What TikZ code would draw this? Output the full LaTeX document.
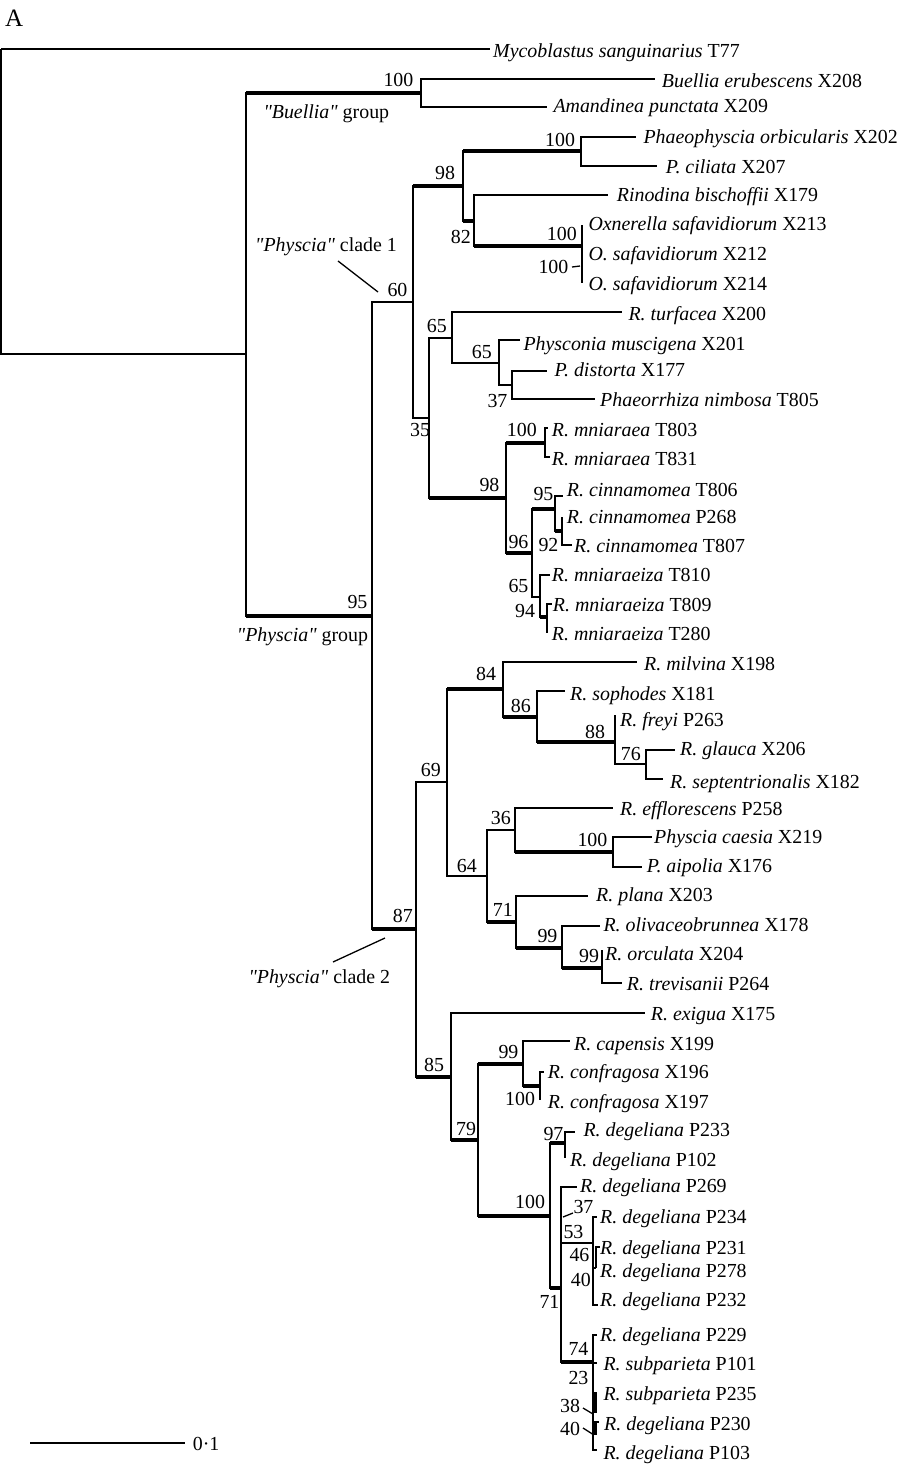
\documentclass[tikz,border=0pt]{standalone}
\usepackage{fontspec}
\setmainfont{Liberation Serif}[Ligatures=TeXOff]
\newcommand{\fs}{\fontsize{19.9}{23}\selectfont}
\tikzset{
  br/.style={line width=1.3pt, line join=miter},
  tkl/.style={line width=4.3pt},
  lf/.style={anchor=base west, inner sep=0pt, font=\fs},
  lead/.style={line width=1.3pt}
}
\newcommand{\tn}[2]{\draw[br] (#1) |- (#2);}
\newcommand{\thk}[2]{\draw[br] (#1) |- (#2); \draw[tkl] (#1 |- #2) -- (#2);}
\newcommand{\mkleaf}[4]{\node[lf] (#1) at (#2,#3) {#4};}
\begin{document}
\begin{tikzpicture}[x=1pt,y=-1pt]
\useasboundingbox (0,0) rectangle (903,1464);
% ---------- coordinates of internal nodes ----------
\coordinate (root) at (1,49);
\coordinate (ing) at (246,354);
\coordinate (bu) at (421,93);
\coordinate (phy) at (372,616);
\coordinate (c1) at (413,302);
\coordinate (c2) at (416,929);
\coordinate (n98) at (463,186);
\coordinate (n100a) at (581,151);
\coordinate (n82) at (474,221);
\coordinate (oxn) at (582,246);
\coordinate (n35) at (429,418);
\coordinate (n65a) at (452,338);
\coordinate (n65b) at (499,363);
\coordinate (n37) at (512,385);
\coordinate (n98b) at (506,498);
\coordinate (mni) at (545,443);
\coordinate (n96) at (532,553);
\coordinate (n95) at (555,509);
\coordinate (n92) at (562,531);
\coordinate (n65c) at (540,597);
\coordinate (n94) at (547,617);
\coordinate (n69) at (447,782);
\coordinate (n84) at (503,689);
\coordinate (n86) at (537,717);
\coordinate (n88) at (615,742);
\coordinate (n76) at (646,764);
\coordinate (n64) at (487,876);
\coordinate (n36) at (515,830);
\coordinate (n100c) at (613,852);
\coordinate (n71) at (516,922);
\coordinate (n99a) at (562,948);
\coordinate (n99b) at (602,968);
\coordinate (n85) at (451,1077);
\coordinate (n79) at (478,1140);
\coordinate (n99c) at (523,1064);
\coordinate (n100e) at (540,1086);
\coordinate (n100d) at (550,1216);
\coordinate (n97) at (565,1143);
\coordinate (n71b) at (561,1288);
\coordinate (n53) at (593,1243);
\coordinate (n46) at (596,1268);
\coordinate (n74) at (593,1362);
% ---------- tip coordinates ----------
\coordinate (tmyco) at (490,49);
\coordinate (tbue) at (655,79);
\coordinate (tama) at (547,107);
\coordinate (tpho) at (636,137);
\coordinate (tcil) at (657,166);
\coordinate (trin) at (608,195);
\coordinate (toxt) at (582,225);
\coordinate (toxb) at (582,283);
\coordinate (ttur) at (622,312);
\coordinate (tphs) at (520,340);
\coordinate (tdis) at (547,371);
\coordinate (tpha) at (595,399);
\coordinate (tmna) at (548,428);
\coordinate (tmnb) at (550,457);
\coordinate (tcia) at (563,496);
\coordinate (tcib) at (562,517);
\coordinate (tcic) at (572,545);
\coordinate (tmza) at (550,575);
\coordinate (tmzb) at (552,604);
\coordinate (tmzc) at (547,633);
\coordinate (tmil) at (637,662);
\coordinate (tsop) at (565,691);
\coordinate (tfre) at (615,715);
\coordinate (tgla) at (675,750);
\coordinate (tsep) at (663,779);
\coordinate (teff) at (613,808);
\coordinate (tcae) at (652,837);
\coordinate (taip) at (642,867);
\coordinate (tpla) at (588,896);
\coordinate (toli) at (600,926);
\coordinate (torc) at (602,950);
\coordinate (ttre) at (622,983);
\coordinate (texi) at (645,1013);
\coordinate (tcap) at (570,1041);
\coordinate (tcfa) at (544,1072);
\coordinate (tcfb) at (540,1100);
\coordinate (td233) at (575,1132);
\coordinate (td102) at (565,1158);
\coordinate (td269) at (577,1187);
\coordinate (td234) at (597,1217);
\coordinate (td231) at (600,1247);
\coordinate (td232) at (598,1305);
\coordinate (td229) at (597,1335);
\coordinate (ts101) at (597,1363);
\coordinate (td230) at (599,1422);
\coordinate (td103) at (597,1450);
\coordinate (t38a) at (595,1392);
\coordinate (t38b) at (595,1413);
\coordinate (t40a) at (595,1422);
\coordinate (t40b) at (595,1435);
% ---------- branches ----------
\tn{root}{tmyco}
\tn{root}{ing}
\thk{ing}{bu}
\tn{bu}{tbue}
\tn{bu}{tama}
\thk{ing}{phy}
\tn{phy}{c1}
\thk{phy}{c2}
% clade 1
\thk{c1}{n98}
\thk{n98}{n100a}
\tn{n100a}{tpho}
\tn{n100a}{tcil}
\thk{n98}{n82}
\tn{n82}{trin}
\thk{n82}{oxn}
\draw[br] (toxt) -- (toxb);
\tn{c1}{n35}
\tn{n35}{n65a}
\tn{n65a}{ttur}
\tn{n65a}{n65b}
\tn{n65b}{tphs}
\tn{n65b}{n37}
\tn{n37}{tdis}
\tn{n37}{tpha}
\thk{n35}{n98b}
\thk{n98b}{mni}
\tn{mni}{tmna}
\tn{mni}{tmnb}
\thk{n98b}{n96}
\thk{n96}{n95}
\tn{n95}{tcia}
\thk{n95}{n92}
\tn{n92}{tcib}
\tn{n92}{tcic}
\tn{n96}{n65c}
\tn{n65c}{tmza}
\thk{n65c}{n94}
\tn{n94}{tmzb}
\tn{n94}{tmzc}
% clade 2
\tn{c2}{n69}
\thk{n69}{n84}
\tn{n84}{tmil}
\thk{n84}{n86}
\tn{n86}{tsop}
\thk{n86}{n88}
\tn{n88}{tfre}
\tn{n88}{n76}
\tn{n76}{tgla}
\tn{n76}{tsep}
\tn{n69}{n64}
\tn{n64}{n36}
\tn{n36}{teff}
\thk{n36}{n100c}
\tn{n100c}{tcae}
\tn{n100c}{taip}
\thk{n64}{n71}
\tn{n71}{tpla}
\thk{n71}{n99a}
\tn{n99a}{toli}
\thk{n99a}{n99b}
\tn{n99b}{torc}
\tn{n99b}{ttre}
\thk{c2}{n85}
\tn{n85}{texi}
\thk{n85}{n79}
\thk{n79}{n99c}
\tn{n99c}{tcap}
\thk{n99c}{n100e}
\tn{n100e}{tcfa}
\tn{n100e}{tcfb}
\thk{n79}{n100d}
\thk{n100d}{n97}
\tn{n97}{td233}
\tn{n97}{td102}
\thk{n100d}{n71b}
\tn{n71b}{td269}
\tn{n71b}{n53}
\tn{n53}{td234}
\tn{n53}{n46}
\tn{n46}{td231}
\tn{n53}{td232}
\thk{n71b}{n74}
\tn{n74}{td229}
\tn{n74}{ts101}
\tn{n74}{td230}
\tn{n74}{td103}
\draw[line width=3pt] (t38a) -- (t38b);
\draw[line width=3pt] (t40a) -- (t40b);
% ---------- leaf labels ----------
\mkleaf{myco}{493}{57.3}{\textit{Mycoblastus sanguinarius} T77}
\mkleaf{bue}{661.7}{87.3}{\textit{Buellia erubescens} X208}
\mkleaf{ama}{553.3}{112.7}{\textit{Amandinea punctata} X209}
\mkleaf{pho}{643.3}{143.3}{\textit{Phaeophyscia orbicularis} X202}
\mkleaf{cil}{665.7}{173.3}{\textit{P. ciliata} X207}
\mkleaf{rin}{616.7}{201.7}{\textit{Rinodina bischoffii} X179}
\mkleaf{oxa}{588.3}{230}{\textit{Oxnerella safavidiorum} X213}
\mkleaf{oxb}{588.3}{260}{\textit{O. safavidiorum} X212}
\mkleaf{oxc}{588.3}{290}{\textit{O. safavidiorum} X214}
\mkleaf{tur}{628.3}{320}{\textit{R. turfacea} X200}
\mkleaf{phs}{523.3}{350}{\textit{Physconia muscigena} X201}
\mkleaf{dis}{554.3}{376.7}{\textit{P. distorta} X177}
\mkleaf{pha}{600}{406.7}{\textit{Phaeorrhiza nimbosa} T805}
\mkleaf{mna}{551.7}{436}{\textit{R. mniaraea} T803}
\mkleaf{mnb}{551.7}{465}{\textit{R. mniaraea} T831}
\mkleaf{cia}{566.7}{496}{\textit{R. cinnamomea} T806}
\mkleaf{cib}{566.7}{523.3}{\textit{R. cinnamomea} P268}
\mkleaf{cic}{574}{552.7}{\textit{R. cinnamomea} T807}
\mkleaf{mza}{551.7}{581.7}{\textit{R. mniaraeiza} T810}
\mkleaf{mzb}{552.7}{611.7}{\textit{R. mniaraeiza} T809}
\mkleaf{mzc}{551.7}{640.7}{\textit{R. mniaraeiza} T280}
\mkleaf{mil}{644}{670}{\textit{R. milvina} X198}
\mkleaf{sop}{570}{700}{\textit{R. sophodes} X181}
\mkleaf{fre}{620}{726.7}{\textit{R. freyi} P263}
\mkleaf{gla}{680}{755}{\textit{R. glauca} X206}
\mkleaf{sep}{670}{788.3}{\textit{R. septentrionalis} X182}
\mkleaf{eff}{620}{815}{\textit{R. efflorescens} P258}
\mkleaf{cae}{654}{843.3}{\textit{Physcia caesia} X219}
\mkleaf{aip}{646.7}{872.7}{\textit{P. aipolia} X176}
\mkleaf{pla}{596}{901.7}{\textit{R. plana} X203}
\mkleaf{oli}{603.3}{931.7}{\textit{R. olivaceobrunnea} X178}
\mkleaf{orc}{605}{960.7}{\textit{R. orculata} X204}
\mkleaf{tre}{626.7}{990.7}{\textit{R. trevisanii} P264}
\mkleaf{exi}{650.7}{1020}{\textit{R. exigua} X175}
\mkleaf{cap}{574}{1050.7}{\textit{R. capensis} X199}
\mkleaf{cfa}{547.7}{1078.3}{\textit{R. confragosa} X196}
\mkleaf{cfb}{547.7}{1108.3}{\textit{R. confragosa} X197}
\mkleaf{d233}{583.3}{1136}{\textit{R. degeliana} P233}
\mkleaf{d102}{570}{1166}{\textit{R. degeliana} P102}
\mkleaf{d269}{580}{1192}{\textit{R. degeliana} P269}
\mkleaf{d234}{600}{1223.3}{\textit{R. degeliana} P234}
\mkleaf{d231}{600}{1254}{\textit{R. degeliana} P231}
\mkleaf{d278}{600}{1277.3}{\textit{R. degeliana} P278}
\mkleaf{d232}{600}{1306}{\textit{R. degeliana} P232}
\mkleaf{d229}{600}{1341}{\textit{R. degeliana} P229}
\mkleaf{s101}{603.3}{1370}{\textit{R. subparieta} P101}
\mkleaf{s235}{603.3}{1400.7}{\textit{R. subparieta} P235}
\mkleaf{d230}{604}{1430.7}{\textit{R. degeliana} P230}
\mkleaf{d103}{603.3}{1459.3}{\textit{R. degeliana} P103}
% ---------- support values ----------
\mkleaf{b1}{383.3}{86}{100}
\mkleaf{b2}{545}{146.7}{100}
\mkleaf{b3}{435}{179}{98}
\mkleaf{b4}{450.7}{243.3}{82}
\mkleaf{b5}{546.7}{240}{100}
\mkleaf{b6}{538.3}{273.3}{100}
\mkleaf{b7}{387.3}{296}{60}
\mkleaf{b8}{426.7}{332.7}{65}
\mkleaf{b9}{471.7}{358.3}{65}
\mkleaf{b10}{487.3}{407.3}{37}
\mkleaf{b11}{410}{436.7}{35}
\mkleaf{b12}{506.7}{436.7}{100}
\mkleaf{b13}{479.3}{491.7}{98}
\mkleaf{b14}{533.3}{500}{95}
\mkleaf{b15}{508.3}{548.3}{96}
\mkleaf{b16}{538.3}{551}{92}
\mkleaf{b17}{508.3}{592.7}{65}
\mkleaf{b18}{515}{617.3}{94}
\mkleaf{b19}{347.3}{608.3}{95}
\mkleaf{b20}{476}{680}{84}
\mkleaf{b21}{510.7}{712.3}{86}
\mkleaf{b22}{585}{738.3}{88}
\mkleaf{b23}{620.7}{760.7}{76}
\mkleaf{b24}{420.7}{776}{69}
\mkleaf{b25}{490.7}{824}{36}
\mkleaf{b26}{577.3}{846}{100}
\mkleaf{b27}{456.7}{872.3}{64}
\mkleaf{b28}{492.7}{916}{71}
\mkleaf{b29}{392.7}{922.3}{87}
\mkleaf{b30}{537.3}{942.7}{99}
\mkleaf{b31}{579}{962.7}{99}
\mkleaf{b32}{424}{1071}{85}
\mkleaf{b33}{498.3}{1058.7}{99}
\mkleaf{b34}{505}{1105.7}{100}
\mkleaf{b35}{456}{1135.7}{79}
\mkleaf{b36}{543.3}{1140}{97}
\mkleaf{b37}{515}{1208.3}{100}
\mkleaf{b38}{573.3}{1213}{37}
\mkleaf{b39}{563.3}{1238.3}{53}
\mkleaf{b40}{569.3}{1261.7}{46}
\mkleaf{b41}{570.7}{1286}{40}
\mkleaf{b42}{539.3}{1308.3}{71}
\mkleaf{b43}{568.3}{1355}{74}
\mkleaf{b44}{568.3}{1384.3}{23}
\mkleaf{b45}{560}{1412.7}{38}
\mkleaf{b46}{560}{1435}{40}
% ---------- group labels ----------
\node[lf, font=\fontsize{25}{28}\selectfont] (panel) at (5,27) {A};
\mkleaf{gbu}{263.3}{118.3}{\textit{"Buellia"} group}
\mkleaf{gc1}{255}{251.7}{\textit{"Physcia"} clade 1}
\mkleaf{gph}{236.7}{641.7}{\textit{"Physcia"} group}
\mkleaf{gc2}{248.3}{983.3}{\textit{"Physcia"} clade 2}
% ---------- leader lines ----------
\coordinate (l1a) at (338,261); \coordinate (l1b) at (378,292);
\draw[lead] (l1a) -- (l1b);
\coordinate (l2a) at (333,962); \coordinate (l2b) at (385,938);
\draw[lead] (l2a) -- (l2b);
\coordinate (l3a) at (563,1217); \coordinate (l3b) at (573,1213);
\draw[lead] (l3a) -- (l3b);
\coordinate (l4a) at (583,1408); \coordinate (l4b) at (593,1414);
\draw[lead] (l4a) -- (l4b);
\coordinate (l5a) at (583,1428); \coordinate (l5b) at (594,1435);
\draw[lead] (l5a) -- (l5b);
\coordinate (l6a) at (572,267); \coordinate (l6b) at (580,266);
\draw[lead] (l6a) -- (l6b);
% ---------- scale bar ----------
\coordinate (sba) at (30,1443); \coordinate (sbb) at (185,1443);
\draw[br] (sba) -- (sbb);
\mkleaf{sbl}{192.7}{1450}{0·1}
\end{tikzpicture}
\end{document}
